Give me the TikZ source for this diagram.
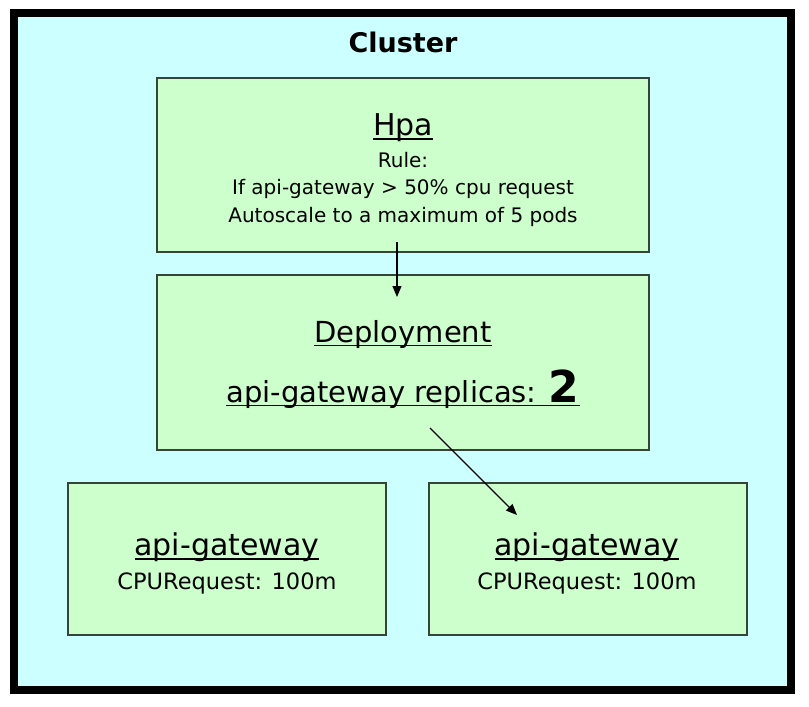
\documentclass[tikz,border=0pt]{standalone}
\usepackage{fontspec}
\setmainfont{DejaVu Sans}
\usetikzlibrary{arrows.meta}
\definecolor{clusterfill}{HTML}{CCFFFF}
\definecolor{boxfill}{HTML}{CCFFCC}
\definecolor{boxline}{HTML}{34443A}
\newcommand{\undl}[1]{\setbox0=\hbox{#1}\rlap{\rule[-0.15em]{\wd0}{0.06em}}\box0}
\tikzset{
    frame/.style={
        draw=black,
        fill=clusterfill,
        line width=8pt,
        inner sep=0pt
    },
    box/.style={
        draw=boxline,
        fill=boxfill,
        line width=1.3pt,
        inner sep=0pt
    },
    txt/.style={
        anchor=base,
        inner sep=0pt
    },
    link/.style={
        -{Triangle[length=11pt, width=9pt]},
        line width=1.1pt
    }
}

\begin{document}
\begin{tikzpicture}[x=1pt, y=-1pt]
  \useasboundingbox (0,0) rectangle (809,707);

  % Cluster frame
  \node[frame, minimum width=777pt, minimum height=677pt] (cluster) at (402.5,351.5) {};
  \node[txt, font=\bfseries\fontsize{27}{30}\selectfont] (title) at (403,52) {Cluster};

  % Hpa box
  \node[box, minimum width=492pt, minimum height=174pt] (hpa) at (403,165) {};
  \node[txt, font=\fontsize{30}{32}\selectfont] (hpaname) at (403,135) {\undl{Hpa}};
  \node[txt, font=\fontsize{20}{24}\selectfont] (hparule) at (403,167) {Rule:};
  \node[txt, font=\fontsize{20}{24}\selectfont] (hpaif) at (403,194) {If api-gateway > 50\% cpu request};
  \node[txt, font=\fontsize{20}{24}\selectfont] (hpamax) at (403,222) {Autoscale to a maximum of 5 pods};

  % Deployment box
  \node[box, minimum width=492pt, minimum height=175pt] (deploy) at (403,362.5) {};
  \node[txt, font=\fontsize{29}{32}\selectfont] (deployname) at (403,342) {\undl{Deployment}};
  \node[txt, font=\fontsize{29}{32}\selectfont] (replicas) at (403,402)
    {\undl{api-gateway replicas: {\bfseries\fontsize{44}{46}\selectfont 2}}};

  % Pods
  \node[box, minimum width=318pt, minimum height=152pt] (pod1) at (227,559) {};
  \node[txt, font=\fontsize{30}{32}\selectfont] (pod1name) at (227,555) {\undl{api-gateway}};
  \node[txt, font=\fontsize{22.5}{26}\selectfont] (pod1cpu) at (227,589) {CPURequest: 100m};
  \node[box, minimum width=318pt, minimum height=152pt] (pod2) at (588,559) {};
  \node[txt, font=\fontsize{30}{32}\selectfont] (pod2name) at (587,555) {\undl{api-gateway}};
  \node[txt, font=\fontsize{22.5}{26}\selectfont] (pod2cpu) at (587,589) {CPURequest: 100m};

  % Arrows
  \coordinate (hpatail) at (397,242);
  \coordinate (deployhead) at (397,297);
  \coordinate (deploytail) at (430,428);
  \coordinate (podhead) at (517,515);
  \draw[link] (hpatail) -- (deployhead);
  \draw[link] (deploytail) -- (podhead);
\end{tikzpicture}
\end{document}
